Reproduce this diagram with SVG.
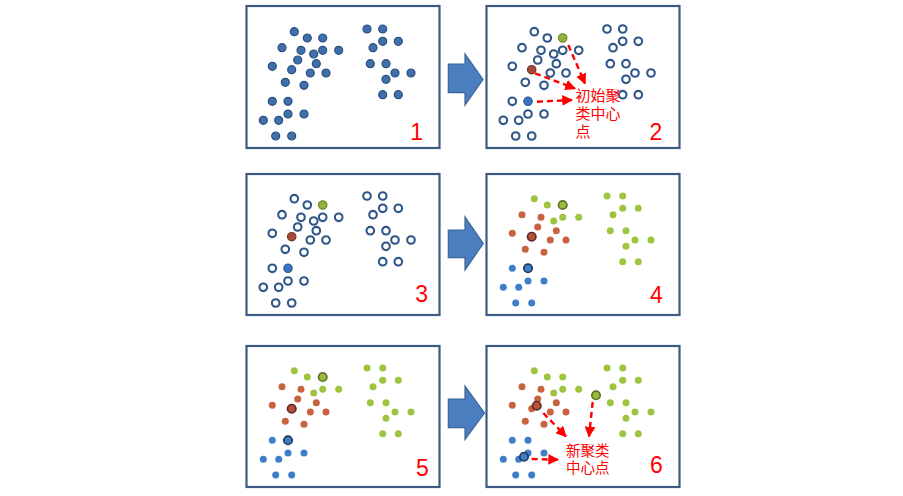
<svg xmlns="http://www.w3.org/2000/svg" width="903" height="496" viewBox="0 0 903 496">
<style>
.frame{fill:#fff;stroke:#3d5b82;stroke-width:2.2}
.solid circle{r:4}
.solid{fill:#3f70aa;stroke:#2a4f80;stroke-width:1.2}
.open{fill:#fff;stroke:#2f5688;stroke-width:2.1}
.g{fill:#9ec53f}
.r{fill:#c8623f}
.b{fill:#3f7fc9}
.gc{fill:#9abc3c;stroke:#5e7428;stroke-width:1.7}
.rc{fill:#b8503a;stroke:#5e2a24;stroke-width:1.7}
.bc{fill:#3f7fc9;stroke:#22395a;stroke-width:1.7}
.gc2{fill:#95b13e;stroke:#6f8a2e;stroke-width:1.2}
.rc2{fill:#a34b39;stroke:#7a3428;stroke-width:1.2}
.bc2{fill:#3b75c2;stroke:#2b5a90;stroke-width:1.2}
.num{font-family:"Liberation Sans",Arial,sans-serif;font-size:23px;fill:#ff0000;text-anchor:middle}
.cjk{font-family:"Liberation Sans","Noto Sans CJK SC",sans-serif;fill:#ff0000}
.dash{stroke:#ff0000;stroke-width:2.4;stroke-dasharray:6 4;fill:none}
.blk{fill:#4a7ebf;stroke:#3c6496;stroke-width:1.2}
</style>
<defs>
<marker id="ah" viewBox="0 0 10 10" refX="9" refY="5" markerWidth="4.5" markerHeight="4.5" orient="auto" markerUnits="strokeWidth">
<path d="M0,0 L10,5 L0,10 Z" fill="#ff0000"/>
</marker>
</defs>

<!-- Panel 1 -->
<g id="panel1">
<rect class="frame" x="246.5" y="6" width="193" height="142"/>
<g class="solid">
<circle cx="294.3" cy="31.7" r="4"/><circle cx="307.3" cy="38" r="4"/><circle cx="322.7" cy="38" r="4"/>
<circle cx="282" cy="47.7" r="4"/><circle cx="301" cy="50.3" r="4"/><circle cx="313.7" cy="54" r="4"/>
<circle cx="322.7" cy="50.3" r="4"/><circle cx="338.7" cy="50.3" r="4"/><circle cx="297.7" cy="60" r="4"/>
<circle cx="316.3" cy="63.7" r="4"/><circle cx="272.3" cy="66.3" r="4"/><circle cx="291.7" cy="69.7" r="4"/>
<circle cx="310.3" cy="73" r="4"/><circle cx="326" cy="73" r="4"/><circle cx="285.3" cy="82.3" r="4"/>
<circle cx="304" cy="85.3" r="4"/>
<circle cx="272.3" cy="101.3" r="4"/><circle cx="288" cy="101.3" r="4"/><circle cx="288" cy="114" r="4"/>
<circle cx="304" cy="114" r="4"/><circle cx="263.3" cy="120.3" r="4"/><circle cx="278.7" cy="120.3" r="4"/>
<circle cx="275.7" cy="136" r="4"/><circle cx="291.7" cy="136" r="4"/>
<circle cx="367" cy="29" r="4"/><circle cx="382.7" cy="29" r="4"/><circle cx="382.7" cy="41.3" r="4"/>
<circle cx="398.3" cy="41.3" r="4"/><circle cx="373" cy="47.7" r="4"/><circle cx="370.3" cy="63.7" r="4"/>
<circle cx="386" cy="63.7" r="4"/><circle cx="395" cy="73" r="4"/><circle cx="411" cy="73" r="4"/>
<circle cx="386" cy="79.3" r="4"/><circle cx="382.7" cy="94.7" r="4"/><circle cx="398.3" cy="94.7" r="4"/>
</g>
<text class="num" x="416.7" y="140">1</text>
</g>

<!-- Panel 2 -->
<g id="panel2">
<rect class="frame" x="486.5" y="6" width="193" height="142"/>
<g transform="translate(240,0)">
<g class="open">
<circle cx="294.3" cy="31.7" r="3.8"/><circle cx="307.3" cy="38" r="3.8"/>
<circle cx="282" cy="47.7" r="3.8"/><circle cx="301" cy="50.3" r="3.8"/><circle cx="313.7" cy="54" r="3.8"/>
<circle cx="322.7" cy="50.3" r="3.8"/><circle cx="338.7" cy="50.3" r="3.8"/><circle cx="297.7" cy="60" r="3.8"/>
<circle cx="316.3" cy="63.7" r="3.8"/><circle cx="272.3" cy="66.3" r="3.8"/>
<circle cx="310.3" cy="73" r="3.8"/><circle cx="326" cy="73" r="3.8"/><circle cx="285.3" cy="82.3" r="3.8"/>
<circle cx="304" cy="85.3" r="3.8"/>
<circle cx="272.3" cy="101.3" r="3.8"/><circle cx="288" cy="114" r="3.8"/>
<circle cx="304" cy="114" r="3.8"/><circle cx="263.3" cy="120.3" r="3.8"/><circle cx="278.7" cy="120.3" r="3.8"/>
<circle cx="275.7" cy="136" r="3.8"/><circle cx="291.7" cy="136" r="3.8"/>
<circle cx="367" cy="29" r="3.8"/><circle cx="382.7" cy="29" r="3.8"/><circle cx="382.7" cy="41.3" r="3.8"/>
<circle cx="398.3" cy="41.3" r="3.8"/><circle cx="373" cy="47.7" r="3.8"/><circle cx="370.3" cy="63.7" r="3.8"/>
<circle cx="386" cy="63.7" r="3.8"/><circle cx="395" cy="73" r="3.8"/><circle cx="411" cy="73" r="3.8"/>
<circle cx="386" cy="79.3" r="3.8"/><circle cx="382.7" cy="94.7" r="3.8"/><circle cx="398.3" cy="94.7" r="3.8"/>
</g>
<circle class="gc2" cx="322.7" cy="38" r="4.2"/>
<circle class="rc2" cx="291.7" cy="69.7" r="4.2"/>
<circle class="bc2" cx="288" cy="101.3" r="4.2"/>
</g>
<text class="cjk" font-size="15" x="575.5" y="100.5">初始聚</text>
<text class="cjk" font-size="15" x="575.5" y="118.5">类中心</text>
<text class="cjk" font-size="15" x="575.5" y="136.5">点</text>
<text class="num" x="656" y="139.5">2</text>
</g>

<!-- Panel 3 -->
<g id="panel3">
<rect class="frame" x="246.5" y="174" width="193" height="141"/>
<g transform="translate(0,167)">
<g class="open">
<circle cx="294.3" cy="31.7" r="3.8"/><circle cx="307.3" cy="38" r="3.8"/>
<circle cx="282" cy="47.7" r="3.8"/><circle cx="301" cy="50.3" r="3.8"/><circle cx="313.7" cy="54" r="3.8"/>
<circle cx="322.7" cy="50.3" r="3.8"/><circle cx="338.7" cy="50.3" r="3.8"/><circle cx="297.7" cy="60" r="3.8"/>
<circle cx="316.3" cy="63.7" r="3.8"/><circle cx="272.3" cy="66.3" r="3.8"/>
<circle cx="310.3" cy="73" r="3.8"/><circle cx="326" cy="73" r="3.8"/><circle cx="285.3" cy="82.3" r="3.8"/>
<circle cx="304" cy="85.3" r="3.8"/>
<circle cx="272.3" cy="101.3" r="3.8"/><circle cx="288" cy="114" r="3.8"/>
<circle cx="304" cy="114" r="3.8"/><circle cx="263.3" cy="120.3" r="3.8"/><circle cx="278.7" cy="120.3" r="3.8"/>
<circle cx="275.7" cy="136" r="3.8"/><circle cx="291.7" cy="136" r="3.8"/>
<circle cx="367" cy="29" r="3.8"/><circle cx="382.7" cy="29" r="3.8"/><circle cx="382.7" cy="41.3" r="3.8"/>
<circle cx="398.3" cy="41.3" r="3.8"/><circle cx="373" cy="47.7" r="3.8"/><circle cx="370.3" cy="63.7" r="3.8"/>
<circle cx="386" cy="63.7" r="3.8"/><circle cx="395" cy="73" r="3.8"/><circle cx="411" cy="73" r="3.8"/>
<circle cx="386" cy="79.3" r="3.8"/><circle cx="382.7" cy="94.7" r="3.8"/><circle cx="398.3" cy="94.7" r="3.8"/>
</g>
<circle class="gc2" cx="322.7" cy="38" r="4.2"/>
<circle class="rc2" cx="291.7" cy="69.7" r="4.2"/>
<circle class="bc2" cx="288" cy="101.3" r="4.2"/>
</g>
<text class="num" x="421.7" y="301.5">3</text>
</g>

<!-- Panel 4 -->
<g id="panel4">
<rect class="frame" x="486.5" y="174" width="193" height="141"/>
<g transform="translate(240,167)">
<g class="g">
<circle cx="294.3" cy="31.7" r="3.5"/><circle cx="307.3" cy="38" r="3.5"/><circle cx="313.7" cy="54" r="3.5"/>
<circle cx="322.7" cy="50.3" r="3.5"/><circle cx="338.7" cy="50.3" r="3.5"/>
<circle cx="367" cy="29" r="3.5"/><circle cx="382.7" cy="29" r="3.5"/><circle cx="382.7" cy="41.3" r="3.5"/>
<circle cx="398.3" cy="41.3" r="3.5"/><circle cx="373" cy="47.7" r="3.5"/><circle cx="370.3" cy="63.7" r="3.5"/>
<circle cx="386" cy="63.7" r="3.5"/><circle cx="395" cy="73" r="3.5"/><circle cx="411" cy="73" r="3.5"/>
<circle cx="386" cy="79.3" r="3.5"/><circle cx="382.7" cy="94.7" r="3.5"/><circle cx="398.3" cy="94.7" r="3.5"/>
</g>
<g class="r">
<circle cx="282" cy="47.7" r="3.5"/><circle cx="301" cy="50.3" r="3.5"/><circle cx="297.7" cy="60" r="3.5"/>
<circle cx="316.3" cy="63.7" r="3.5"/><circle cx="272.3" cy="66.3" r="3.5"/>
<circle cx="310.3" cy="73" r="3.5"/><circle cx="326" cy="73" r="3.5"/><circle cx="285.3" cy="82.3" r="3.5"/>
<circle cx="304" cy="85.3" r="3.5"/>
</g>
<g class="b">
<circle cx="272.3" cy="101.3" r="3.5"/><circle cx="288" cy="114" r="3.5"/>
<circle cx="304" cy="114" r="3.5"/><circle cx="263.3" cy="120.3" r="3.5"/><circle cx="278.7" cy="120.3" r="3.5"/>
<circle cx="275.7" cy="136" r="3.5"/><circle cx="291.7" cy="136" r="3.5"/>
</g>
<circle class="gc" cx="322.7" cy="38" r="4.2"/>
<circle class="rc" cx="291.7" cy="69.7" r="4.2"/>
<circle class="bc" cx="288" cy="101.3" r="4.2"/>
</g>
<text class="num" x="656.5" y="302.5">4</text>
</g>

<!-- Panel 5 -->
<g id="panel5">
<rect class="frame" x="246.5" y="346" width="193" height="141"/>
<g transform="translate(0,339)">
<g class="g">
<circle cx="294.3" cy="31.7" r="3.5"/><circle cx="307.3" cy="38" r="3.5"/><circle cx="313.7" cy="54" r="3.5"/>
<circle cx="322.7" cy="50.3" r="3.5"/><circle cx="338.7" cy="50.3" r="3.5"/>
<circle cx="367" cy="29" r="3.5"/><circle cx="382.7" cy="29" r="3.5"/><circle cx="382.7" cy="41.3" r="3.5"/>
<circle cx="398.3" cy="41.3" r="3.5"/><circle cx="373" cy="47.7" r="3.5"/><circle cx="370.3" cy="63.7" r="3.5"/>
<circle cx="386" cy="63.7" r="3.5"/><circle cx="395" cy="73" r="3.5"/><circle cx="411" cy="73" r="3.5"/>
<circle cx="386" cy="79.3" r="3.5"/><circle cx="382.7" cy="94.7" r="3.5"/><circle cx="398.3" cy="94.7" r="3.5"/>
</g>
<g class="r">
<circle cx="282" cy="47.7" r="3.5"/><circle cx="301" cy="50.3" r="3.5"/><circle cx="297.7" cy="60" r="3.5"/>
<circle cx="316.3" cy="63.7" r="3.5"/><circle cx="272.3" cy="66.3" r="3.5"/>
<circle cx="310.3" cy="73" r="3.5"/><circle cx="326" cy="73" r="3.5"/><circle cx="285.3" cy="82.3" r="3.5"/>
<circle cx="304" cy="85.3" r="3.5"/>
</g>
<g class="b">
<circle cx="272.3" cy="101.3" r="3.5"/><circle cx="288" cy="114" r="3.5"/>
<circle cx="304" cy="114" r="3.5"/><circle cx="263.3" cy="120.3" r="3.5"/><circle cx="278.7" cy="120.3" r="3.5"/>
<circle cx="275.7" cy="136" r="3.5"/><circle cx="291.7" cy="136" r="3.5"/>
</g>
<circle class="gc" cx="322.7" cy="38" r="4.2"/>
<circle class="rc" cx="291.7" cy="69.7" r="4.2"/>
<circle class="bc" cx="288" cy="101.3" r="4.2"/>
</g>
<text class="num" x="422.5" y="475.5">5</text>
</g>

<!-- Panel 6 -->
<g id="panel6">
<rect class="frame" x="486.5" y="346" width="193" height="141"/>
<g transform="translate(240,339)">
<g class="g">
<circle cx="294.3" cy="31.7" r="3.5"/><circle cx="307.3" cy="38" r="3.5"/><circle cx="322.7" cy="38" r="3.5"/>
<circle cx="313.7" cy="54" r="3.5"/><circle cx="322.7" cy="50.3" r="3.5"/><circle cx="338.7" cy="50.3" r="3.5"/>
<circle cx="367" cy="29" r="3.5"/><circle cx="382.7" cy="29" r="3.5"/><circle cx="382.7" cy="41.3" r="3.5"/>
<circle cx="398.3" cy="41.3" r="3.5"/><circle cx="373" cy="47.7" r="3.5"/><circle cx="370.3" cy="63.7" r="3.5"/>
<circle cx="386" cy="63.7" r="3.5"/><circle cx="395" cy="73" r="3.5"/><circle cx="411" cy="73" r="3.5"/>
<circle cx="386" cy="79.3" r="3.5"/><circle cx="382.7" cy="94.7" r="3.5"/><circle cx="398.3" cy="94.7" r="3.5"/>
</g>
<g class="r">
<circle cx="282" cy="47.7" r="3.5"/><circle cx="301" cy="50.3" r="3.5"/><circle cx="297.7" cy="60" r="3.5"/>
<circle cx="316.3" cy="63.7" r="3.5"/><circle cx="272.3" cy="66.3" r="3.5"/><circle cx="291.7" cy="69.7" r="3.5"/>
<circle cx="310.3" cy="73" r="3.5"/><circle cx="326" cy="73" r="3.5"/><circle cx="285.3" cy="82.3" r="3.5"/>
<circle cx="304" cy="85.3" r="3.5"/>
</g>
<g class="b">
<circle cx="272.3" cy="101.3" r="3.5"/><circle cx="288" cy="101.3" r="3.5"/><circle cx="288" cy="114" r="3.5"/>
<circle cx="304" cy="114" r="3.5"/><circle cx="263.3" cy="120.3" r="3.5"/><circle cx="278.7" cy="120.3" r="3.5"/>
<circle cx="275.7" cy="136" r="3.5"/><circle cx="291.7" cy="136" r="3.5"/>
</g>
<circle class="gc" cx="356" cy="56.3" r="4.2"/>
<circle class="rc" cx="296.7" cy="66.7" r="4.2"/>
<circle class="bc" cx="284" cy="117.7" r="4.2"/>
</g>
<text class="cjk" font-size="14.5" x="566" y="456">新聚类</text>
<text class="cjk" font-size="14.5" x="566" y="472.5">中心点</text>
<text class="num" x="656.5" y="473">6</text>
</g>

<!-- Connectors -->
<g id="connectors">
<polygon class="blk" points="448.3,64 465,64 465,54 483,79.5 465,105 465,92.7 448.3,92.7"/>
<polygon class="blk" points="448.3,230 465,230 465,217 483.3,243.5 465,270 465,257.7 448.3,257.7"/>
<polygon class="blk" points="448.3,399 465,399 465,386 484.5,413 465,439.5 465,427.7 448.3,427.7"/>
<line class="dash" x1="568.3" y1="45" x2="585" y2="83.5" marker-end="url(#ah)"/>
<line class="dash" x1="535" y1="73.3" x2="575" y2="88.5" marker-end="url(#ah)"/>
<line class="dash" x1="537" y1="101.7" x2="572" y2="100" marker-end="url(#ah)"/>
<line class="dash" x1="543.3" y1="413" x2="566" y2="436.5" marker-end="url(#ah)"/>
<line class="dash" x1="592.7" y1="402" x2="589" y2="436.5" marker-end="url(#ah)"/>
<line class="dash" x1="531.7" y1="459" x2="558" y2="459.7" marker-end="url(#ah)"/>
</g>
</svg>
